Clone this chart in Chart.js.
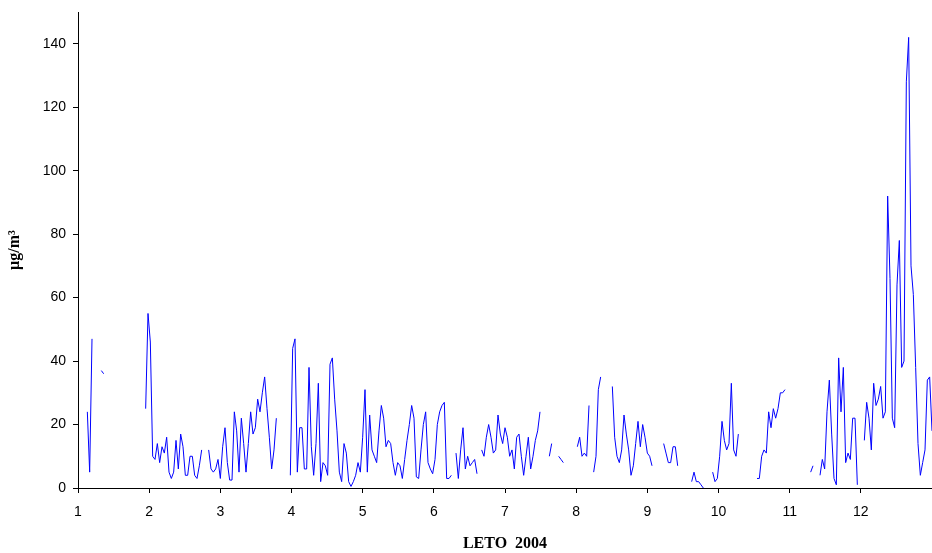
<!DOCTYPE html>
<html>
<head>
<meta charset="utf-8">
<script src="https://cdn.jsdelivr.net/npm/chart.js@4"></script>
<style>
  html, body { margin: 0; padding: 0; background: #fff; }
  canvas { display: block; }
</style>
</head>
<body>
<canvas id="chart" width="932" height="553"></canvas>
<script>
// daily values, leto 2004 (null = no measurement)
const q1 = [null,null,null,null,24,5,47,null,null,null,
  37,36,null,null,null,null,null,null,null,null,
  null,null,null,null,null,null,null,null,null,25,
  55,46,10,9,14,8,13,11,16,5,
  3,5,15,6,17,13,4,4,10,10,
  4,3,7,12,null,null,12,6,5,6,
  9,3,13,19,8,2.5,2.5,24,18,5,
  22,14,5,14,24,17,19,28,24,30,
  35,25,16,6,12,22,null,null,null,null,
  null,4];
const q2 = [44,47,5,19,19,6,6,38,13,4,
  14,33,2,8,7,4,39,41,28,18,
  5,2,14,11,2,0.5,2,4,8,5,
  16,31,5,23,12,10,8,18,26,22,
  13,15,14,8,4,8,7,3,9,15,
  20,26,22,3.5,3,12,20,24,8,6,
  4.5,9,20,24,26,27,3,3,4,null,
  11,3,12,19,6,10,7,8,9,4.5,
  null,12,10,16,20,16,11,12,23,17,
  14,19];
const q3 = [16,10,12,6,16,17,10,4,10,16,
  6,10,15,18,24,null,null,null,10,14,
  null,null,10,9,8,null,null,null,null,null,
  13,16,10,11,10,26,null,5,10,31,
  35,null,null,null,null,32,16,10,8,12,
  23,17,12,4,7,14,21,13,20,16,
  11,10,7,null,null,null,null,14,11,8,
  8,13,13,7,null,null,null,null,null,2,
  5,2,2,1,0,null,null,null,5,2,
  3,10];
const q4 = [21,15,12,14,33,12,10,17,null,null,
  null,null,null,null,null,3,3,10,12,11,
  24,19,25,22,25,30,30,31,null,null,
  null,null,null,null,null,null,null,null,5,7,
  null,null,4,9,6,24,34,17,3,1,
  41,24,38,8,11,9,22,22,1,null,
  null,15,27,22,12,33,26,28,32,22,
  24,92,66,22,19,64,78,38,40,128,
  142,70,61,38,14,4,8,12,34,35,18];

const monthTicks = [1,2,3,4,5,6,7,8,9,10,11,12];
const yTicks = [0,20,40,60,80,100,120,140];

const values = [...q1, ...q2, ...q3, ...q4];
const points = values.map((v, i) => ({ x: 1 + i * 12 / 366, y: v }));

const tickFont = { family: "'Liberation Sans', Arial, sans-serif", size: 14 };
const titleFont = { family: "'Liberation Serif', 'Times New Roman', serif", size: 16, weight: 'bold' };

new Chart(document.getElementById('chart').getContext('2d'), {
  type: 'line',
  data: {
    datasets: [{
      data: points,
      borderColor: '#0000ff',
      borderWidth: 1,
      pointRadius: 0,
      tension: 0,
      spanGaps: false
    }]
  },
  options: {
    responsive: false,
    animation: false,
    devicePixelRatio: 1,
    layout: { padding: { top: 12, right: 0, left: 0, bottom: 0 } },
    plugins: { legend: { display: false }, tooltip: { enabled: false } },
    scales: {
      x: {
        type: 'linear',
        min: 1,
        max: 13,
        afterBuildTicks: s => { s.ticks = [...monthTicks, 13].map(v => ({ value: v })); },
        afterFit: s => { s.height = 65; s.paddingRight = 0; s.paddingLeft = 0; },
        ticks: {
          color: '#000',
          font: tickFont,
          padding: 11,
          maxRotation: 0,
          callback: v => monthTicks.includes(v) ? String(v) : ''
        },
        grid: { display: true, drawOnChartArea: false, drawTicks: true, tickLength: 5, color: '#000' },
        border: { color: '#000', width: 1 },
        title: { display: true, text: 'LETO  2004', color: '#000', font: titleFont, padding: { top: 0, bottom: 0 } }
      },
      y: {
        min: 0,
        max: 150,
        afterBuildTicks: s => { s.ticks = yTicks.map(v => ({ value: v })); },
        afterFit: s => { s.width = 78; s.paddingTop = 0; s.paddingBottom = 0; },
        ticks: { color: '#000', font: tickFont, padding: 7 },
        grid: { display: true, drawOnChartArea: false, drawTicks: true, tickLength: 5, color: '#000' },
        border: { color: '#000', width: 1 },
        title: { display: true, text: 'µg/m³', color: '#000', font: titleFont, padding: { top: 5, bottom: 0 } }
      }
    }
  }
});
</script>
</body>
</html>
